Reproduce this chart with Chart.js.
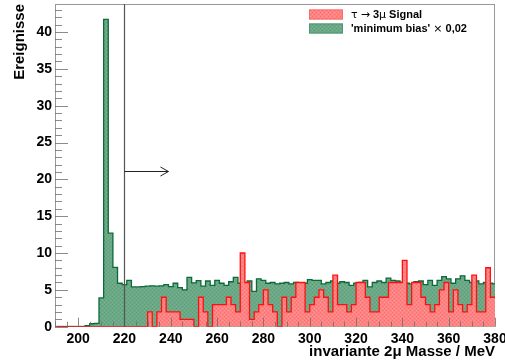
<!DOCTYPE html>
<html>
<head>
<meta charset="utf-8">
<script src="https://cdn.jsdelivr.net/npm/chart.js@4/dist/chart.umd.min.js"></script>
<style>
  html, body { margin: 0; padding: 0; background: #fff; }
  #wrap { width: 505px; height: 361px; }
</style>
</head>
<body>
<div id="wrap"><canvas id="c" width="505" height="361"></canvas></div>
<script>
/* ── binning (2 MeV bins, min-bias sample is offset by 1 MeV) ── */
const BIN_W     = 2;
const SIG_START = 190;
const BG_START  = 191;

/* ── tick labels ── */
const X_TICKS = [200, 220, 240, 260, 280, 300, 320, 340, 360, 380];
const Y_TICKS = [0, 5, 10, 15, 20, 25, 30, 35, 40];

/* ── series ── */
const LABELS = ["\u03c4 \u2192 3\u03bc Signal", "'minimum bias' \u00d7 0,02"];

// tau -> 3mu signal, events per bin, 190..380 MeV
const SIGNAL = [
  0, 0, 0, 0, 0, 0, 0, 0, 0, 0,
  0, 0, 0, 0, 0, 0, 0, 0, 0, 0,
  2, 0, 2, 4, 2, 2, 2, 1, 1, 1,
  0, 4, 2, 0, 3, 3, 3, 4, 3, 2,
  10, 6, 1, 2, 3, 5, 3, 2, 0, 4,
  2, 4, 6, 6, 2, 3, 4, 5, 4, 2,
  7, 3, 3, 2, 3, 6, 6, 4, 2, 2,
  4, 4, 6, 6, 6, 9, 3, 6, 6, 4,
  3, 2, 3, 5, 6, 2, 5, 3, 2, 3,
  7, 2, 2, 8, 4
];

// minimum bias, scaled by 0.02, 191..381 MeV
const MINBIAS = [
  0, 0, 0, 0, 0, 0, 0.15, 0.4, 0.45, 3.9,
  41.7, 12.7, 8.05, 5.9, 5.7, 6.3, 5.4, 5.4, 5.45, 5.5,
  5.55, 5.5, 5.55, 5.7, 5.45, 5.9, 5.3, 5.0, 6.7, 5.95,
  6.25, 5.5, 6.2, 5.6, 6.3, 5.9, 5.6, 6.1, 6.7, 5.9,
  5.5, 6.2, 4.8, 6.5, 6.3, 5.9, 6.0, 5.8, 5.9, 6.0,
  5.8, 6.0, 5.5, 5.9, 6.4, 6.3, 6.3, 5.8, 6.0, 6.2,
  5.9, 6.1, 6.0, 5.6, 5.9, 6.0, 6.3, 5.4, 6.0, 6.2,
  6.0, 6.6, 6.3, 6.2, 6.0, 5.9, 5.8, 6.1, 6.2, 5.7,
  6.3, 5.6, 6.3, 6.8, 6.5, 5.9, 6.5, 6.9, 6.3, 6.0,
  6.2, 5.8, 6.0, 5.9, 5.8
];

// mass cut marker
const CUT_X   = 220;
const ARROW_Y = 21.1;
const ARROW_X = 239;

const FONT = "'Liberation Sans', Arial, Helvetica, sans-serif";
const SYMBOLS = "\u03c4\u2192\u03bc\u00d7";

/* ── helpers ── */
function toSteps(start, values) {
  const pts = values.map((v, i) => ({ x: start + i * BIN_W, y: v }));
  pts.push({ x: start + values.length * BIN_W, y: values[values.length - 1] });
  return pts;
}

const canvas = document.getElementById("c");
const ctx0 = canvas.getContext("2d");

// small dither tile, ROOT-like fill style
function hatch(base, dark, light) {
  const t = document.createElement("canvas");
  t.width = t.height = 4;
  const g = t.getContext("2d");
  g.fillStyle = base;  g.fillRect(0, 0, 4, 4);
  g.fillStyle = dark;  g.fillRect(0, 0, 1, 1); g.fillRect(2, 2, 1, 1);
  g.fillStyle = light; g.fillRect(2, 0, 1, 1); g.fillRect(0, 2, 1, 1);
  return ctx0.createPattern(t, "repeat");
}

const RED_FILL   = hatch("#ff8282", "#f77070", "#ff9898");
const GREEN_FILL = hatch("#6aa886", "#5c9c7a", "#7ab593");

// legend text: greek letters / arrows / times sign in a symbol-capable face
function drawMixed(ctx, text, x, y) {
  for (const ch of text) {
    ctx.font = SYMBOLS.includes(ch) ? "11px 'DejaVu Sans', sans-serif" : "bold 11px " + FONT;
    ctx.fillText(ch, x, y);
    x += ctx.measureText(ch).width;
  }
}

/* ── frame, inward ticks, cut line, legend ── */
const decor = {
  id: "decor",
  beforeDatasetsDraw(chart) {
    const { ctx, chartArea: a } = chart;
    ctx.save();
    ctx.strokeStyle = "#999";
    ctx.lineWidth = 1;
    ctx.strokeRect(a.left + 0.5, a.top + 0.5, a.right - a.left - 1, a.bottom - a.top - 1);
    ctx.restore();
  },
  afterDatasetsDraw(chart) {
    const { ctx, chartArea: a, scales: { x, y } } = chart;
    ctx.save();
    ctx.strokeStyle = "rgba(110,110,110,0.8)";
    ctx.lineWidth = 1;
    ctx.beginPath();
    for (let v = 0; v <= y.max; v += 1) {
      const py = Math.round(y.getPixelForValue(v)) + 0.5;
      const len = v % 5 === 0 ? 13 : 7;
      ctx.moveTo(a.left, py); ctx.lineTo(a.left + len, py);
    }
    for (let v = x.min; v <= x.max; v += 5) {
      const px = Math.round(x.getPixelForValue(v)) + 0.5;
      const len = v % 20 === 0 ? 9 : 5;
      ctx.moveTo(px, a.bottom); ctx.lineTo(px, a.bottom - len);
    }
    ctx.stroke();

    // cut at 220 MeV with arrow
    const cx = Math.round(x.getPixelForValue(CUT_X)) + 0.5;
    const ay = Math.round(y.getPixelForValue(ARROW_Y)) + 0.5;
    const ax = x.getPixelForValue(ARROW_X);
    ctx.strokeStyle = "#555";
    ctx.lineWidth = 1.2;
    ctx.beginPath();
    ctx.moveTo(cx, a.bottom); ctx.lineTo(cx, a.top);
    ctx.stroke();
    ctx.strokeStyle = "#222";
    ctx.lineWidth = 1;
    ctx.beginPath();
    ctx.moveTo(cx, ay); ctx.lineTo(ax, ay);
    ctx.moveTo(ax - 8, ay - 4.5); ctx.lineTo(ax, ay); ctx.lineTo(ax - 8, ay + 4.5);
    ctx.stroke();
    ctx.restore();
  },
  afterDraw(chart) {
    const { ctx } = chart;
    ctx.save();
    ctx.textBaseline = "middle";
    chart.data.datasets.forEach((ds, i) => {
      const top = 9.5 + i * 14;
      ctx.fillStyle = ds.backgroundColor;
      ctx.fillRect(309, top, 34, 10);
      ctx.strokeStyle = ds.legendEdge;
      ctx.lineWidth = 1;
      ctx.strokeRect(309.5, top + 0.5, 33, 9);
      ctx.fillStyle = "#000";
      drawMixed(ctx, ds.label, 351, top + 5.5);
    });
    ctx.restore();
  },
};

new Chart(canvas, {
  type: "line",
  data: {
    datasets: [
      {
        label: LABELS[0],
        data: toSteps(SIG_START, SIGNAL),
        stepped: "before",
        borderColor: "#ff1010",
        borderWidth: 1.3,
        backgroundColor: RED_FILL,
        legendEdge: "#ff6a6a",
        fill: "origin",
        pointRadius: 0,
      },
      {
        label: LABELS[1],
        data: toSteps(BG_START, MINBIAS),
        stepped: "before",
        borderColor: "#0b6a38",
        borderWidth: 1.3,
        backgroundColor: GREEN_FILL,
        legendEdge: "#4f9772",
        fill: "origin",
        pointRadius: 0,
      },
    ],
  },
  options: {
    responsive: false,
    animation: false,
    events: [],
    layout: { padding: { top: 4, right: 10, left: 0, bottom: 0 } },
    plugins: { legend: { display: false }, tooltip: { enabled: false } },
    scales: {
      x: {
        type: "linear",
        min: 190,
        max: 380,
        afterBuildTicks: s => { s.ticks = X_TICKS.map(v => ({ value: v })); },
        afterFit: s => { s.height = 34.3; s.paddingLeft = 0; s.paddingRight = 0; },
        grid: { display: false, drawTicks: false },
        border: { display: false },
        ticks: { color: "#000", padding: 4, maxRotation: 0, font: { family: FONT, size: 14, weight: "bold" } },
        title: {
          display: true, text: "invariante 2\u03bc Masse / MeV", align: "end", color: "#000",
          padding: { top: 0, bottom: 0 },
          font: { family: FONT, size: 15, weight: "bold" },
        },
      },
      y: {
        type: "linear",
        min: 0,
        max: 43.8,
        afterBuildTicks: s => { s.ticks = Y_TICKS.map(v => ({ value: v })); },
        afterFit: s => { s.width = 55; s.paddingTop = 0; s.paddingBottom = 0; },
        grid: { display: false, drawTicks: false },
        border: { display: false },
        ticks: { color: "#000", padding: 3, font: { family: FONT, size: 14, weight: "bold" } },
        title: {
          display: true, text: "Ereignisse", align: "end", color: "#000",
          padding: { top: 11, bottom: 0 },
          font: { family: FONT, size: 15, weight: "bold" },
        },
      },
    },
  },
  plugins: [decor],
});
</script>
</body>
</html>
